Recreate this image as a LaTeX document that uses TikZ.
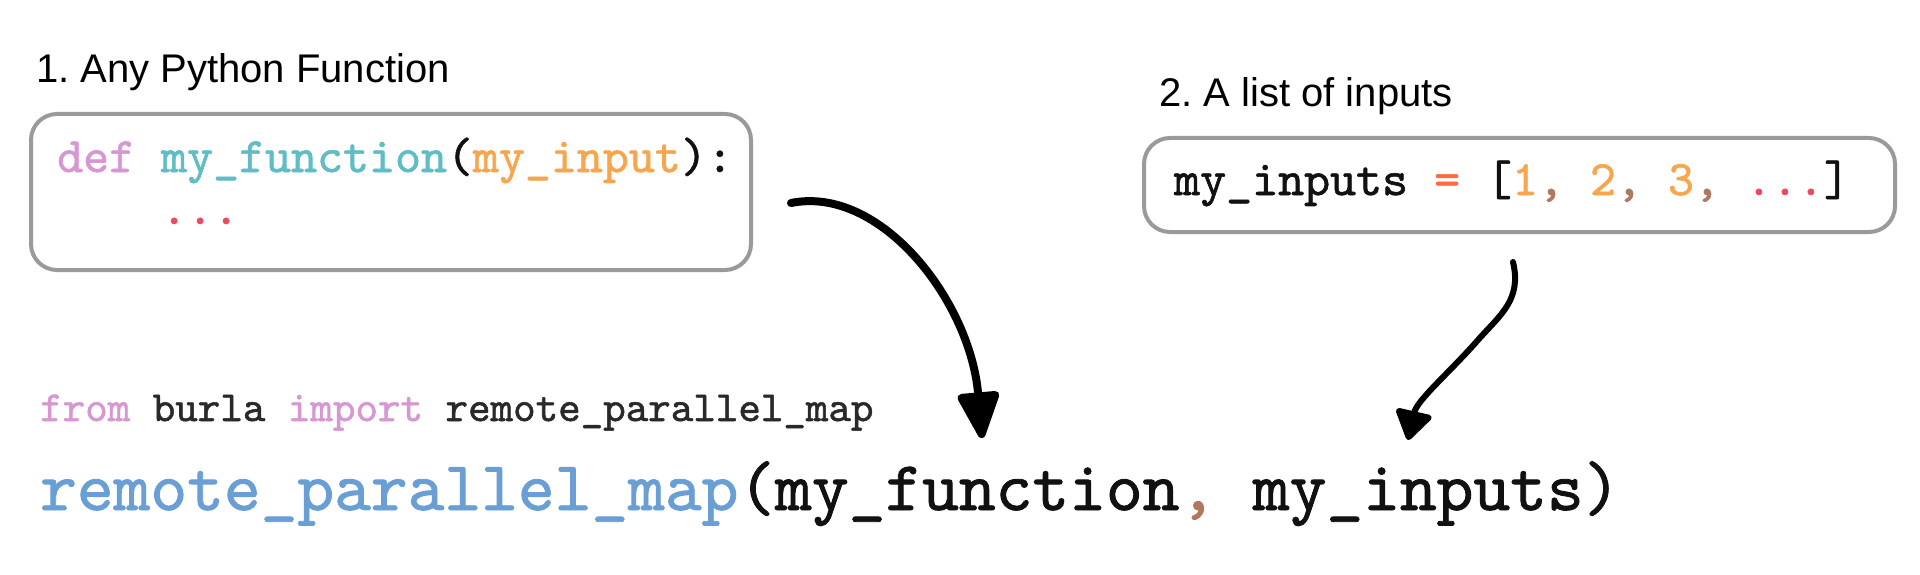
\documentclass[tikz,border=0pt]{standalone}
\usepackage{fontspec}
\newfontfamily\titlefont{Liberation Sans}
\newfontfamily\codefont[FakeBold=1.2]{lmmono10-regular.otf}
\usetikzlibrary{arrows.meta}
\definecolor{kw}{HTML}{D797D2}
\definecolor{fn}{HTML}{5EBDC5}
\definecolor{arg}{HTML}{F8A64E}
\definecolor{dots}{HTML}{F0475E}
\definecolor{eq}{HTML}{FF6A3D}
\definecolor{comma}{HTML}{B07860}
\definecolor{blu}{HTML}{6A9FD6}
\definecolor{boxgray}{HTML}{9A9A9A}
\definecolor{ink}{HTML}{111111}
\begin{document}
\frenchspacing
\begin{tikzpicture}[x=1pt,y=-1pt,
  title/.style={anchor=base west, inner sep=0pt, text=black, font=\titlefont\fontsize{40pt}{44pt}\selectfont},
  code/.style={anchor=base west, inner sep=0pt, text=ink, font=\codefont\fontsize{49.5pt}{52pt}\selectfont},
  smallcode/.style={code, text=ink!90, font=\codefont\fontsize{42.9pt}{46pt}\selectfont},
  bigcode/.style={code, font=\codefont\fontsize{70pt}{74pt}\selectfont},
  codebox/.style={draw=boxgray, line width=4pt, rounded corners=26pt, inner sep=0pt, anchor=north west},
  arr/.style={line width=8pt, line cap=round, -{Triangle[length=52pt,width=44pt,round]}},
  arrthin/.style={line width=6pt, line cap=round, -{Triangle[length=32pt,width=40pt,round]}}]
\useasboundingbox (0,0) rectangle (1920,575);
\fill[white] (0,0) rectangle (1920,575);

% titles
\node[title] (t1) at (36,83) {1. Any Python Function};
\node[title] (t2) at (1159,107) {2. A list of inputs};

% boxes
\node[codebox, minimum width=720pt, minimum height=156pt] (box1) at (29,112) {};
\node[codebox, minimum width=751pt, minimum height=94pt] (box2) at (1142,136) {};

% code in box 1
\node[code] (def) at (57,172) {\textcolor{kw}{def} \textcolor{fn}{my\_function}(\textcolor{arg}{my\_input}):};
\node[code] (body) at (57,224) {\phantom{xxxx}\textcolor{dots}{...}};

% code in box 2
\node[code] (inp) at (1174,195) {my\_inputs \textcolor{eq}{=} [\textcolor{arg}{1}\textcolor{comma}{,} \textcolor{arg}{2}\textcolor{comma}{,} \textcolor{arg}{3}\textcolor{comma}{,} \textcolor{dots}{...}]};

% bottom code
\node[smallcode] (imp) at (40,421) {\textcolor{kw}{from} burla \textcolor{kw}{import} remote\_parallel\_map};
\node[bigcode] (call) at (40,510) {\textcolor{blu}{remote\_parallel\_map}(my\_function\textcolor{comma}{,} my\_inputs)};

% arrows
\coordinate (a1s) at (791,203);
\coordinate (a1e) at (982,438);
\coordinate (a2s) at (1513,262);
\coordinate (a2m) at (1478,340);
\coordinate (a2e) at (1408,440);
\draw[arr] (a1s) .. controls (880,185) and (970,300) .. (a1e);
\draw[arrthin] (a2s) .. controls (1522,300) and (1500,315) .. (a2m) .. controls (1450,372) and (1417,400) .. (a2e);
\end{tikzpicture}
\end{document}
